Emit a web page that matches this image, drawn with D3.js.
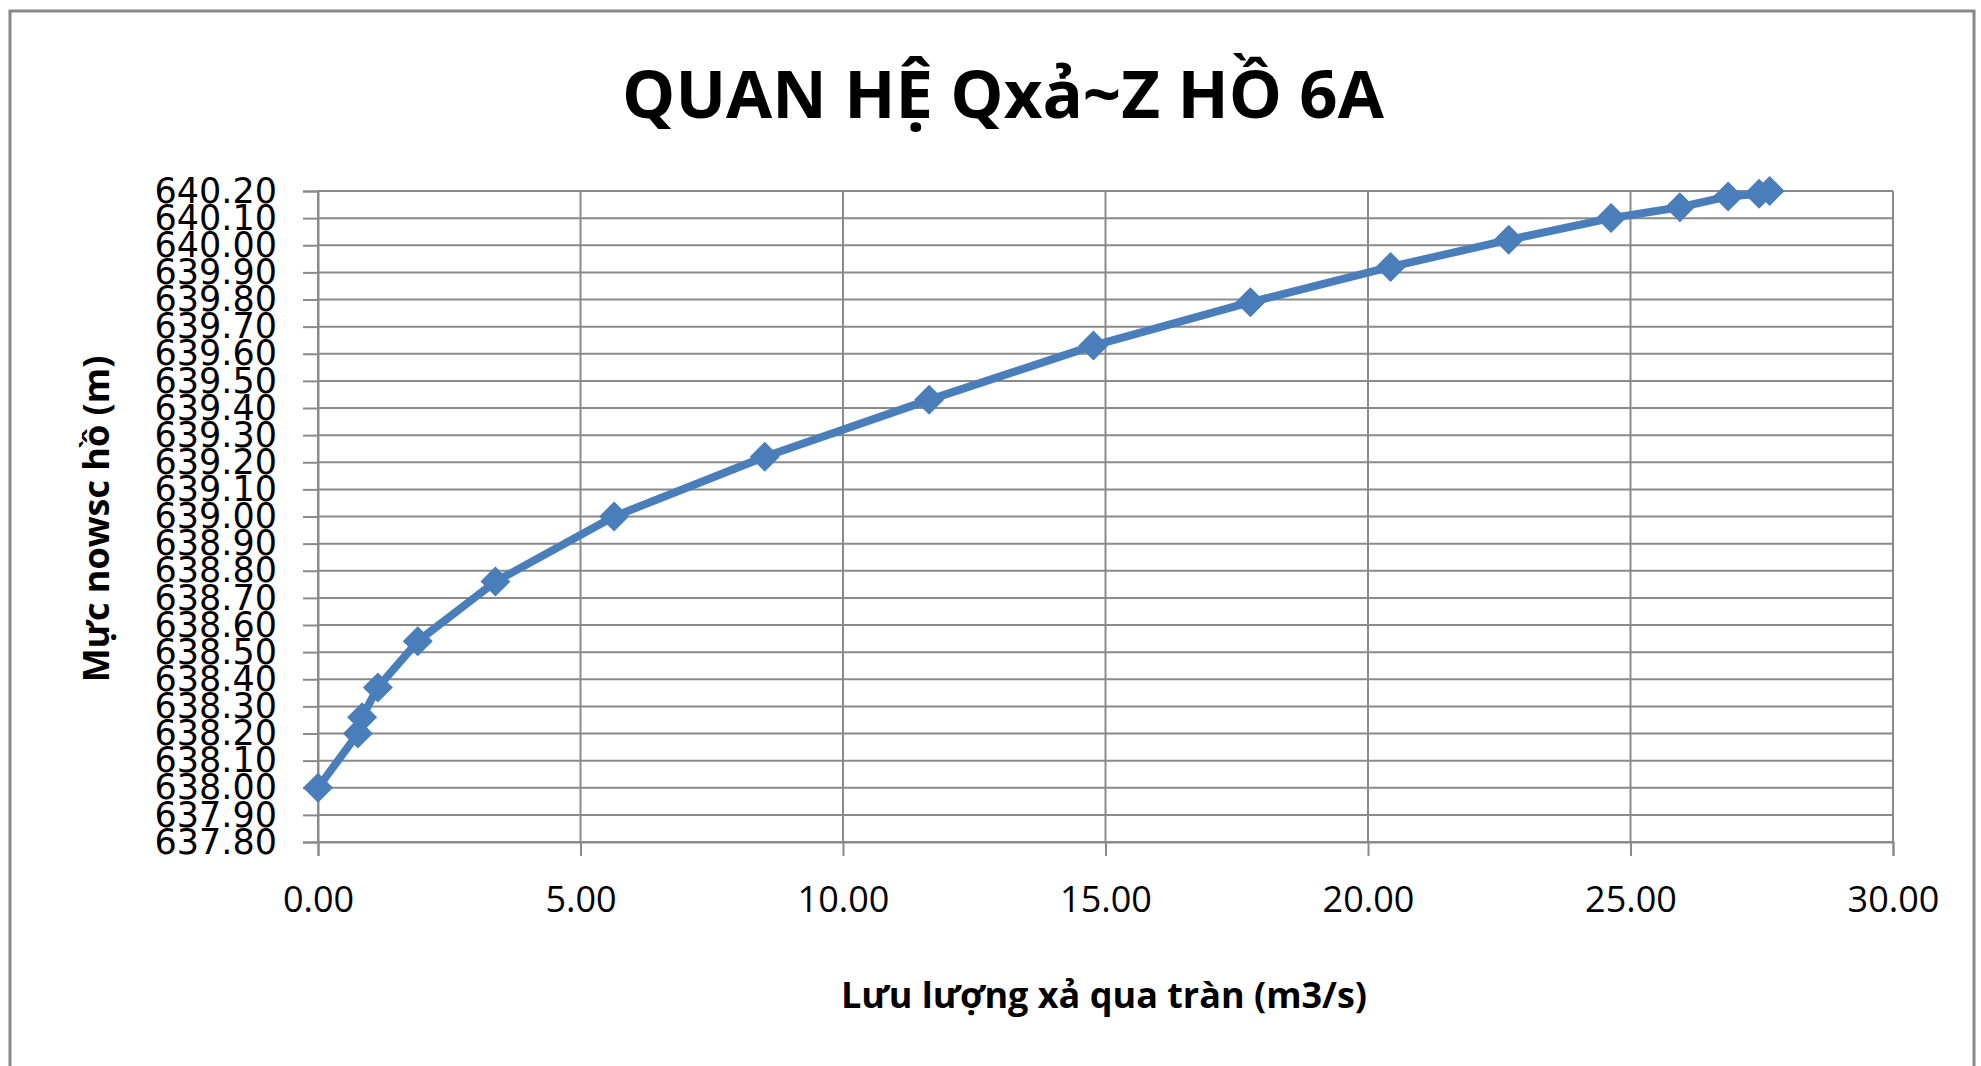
<!DOCTYPE html>
<html>
<head>
<meta charset="utf-8">
<script src="https://cdn.jsdelivr.net/npm/d3@7"></script>
<style>
  body { margin: 0; background: #fff; }
  svg { display: block; }
</style>
</head>
<body>
<svg id="chart"></svg>
<script>
// discharge over the spillway (m3/s) and the matching lake level (m)
const discharge = [0.00, 0.76, 0.84, 1.14, 1.90, 3.38, 5.64, 8.51, 11.64, 14.77, 17.76, 20.43, 22.68, 24.63, 25.94, 26.86, 27.45, 27.65];
const level = [638.00, 638.20, 638.26, 638.37, 638.54, 638.76, 639.00, 639.22, 639.43, 639.63, 639.79, 639.92, 640.02, 640.10, 640.14, 640.18, 640.19, 640.20];

// axis ticks as printed on the chart
const xTicks = [0, 5, 10, 15, 20, 25, 30];
const yTicks = [637.8, 637.9, 638.0, 638.1, 638.2, 638.3, 638.4, 638.5, 638.6, 638.7, 638.8, 638.9,
                639.0, 639.1, 639.2, 639.3, 639.4, 639.5, 639.6, 639.7, 639.8, 639.9, 640.0, 640.1, 640.2];

const title = 'QUAN HỆ Qxả~Z HỒ 6A';
const xTitle = 'Lưu lượng xả qua tràn (m3/s)';
const yTitle = 'Mực nowsc hồ (m)';

const width = 1981, height = 1066;
const margin = { top: 191, right: 88, bottom: 224, left: 318 };
const blue = '#4a7ebb';
const grid = '#8a8a8a';

const svg = d3.select('#chart')
    .attr('width', width)
    .attr('height', height);

// chart area frame
svg.append('rect')
    .attr('x', 10).attr('y', 11)
    .attr('width', 1964).attr('height', 1100)
    .attr('fill', '#fff')
    .attr('stroke', '#888')
    .attr('stroke-width', 3);

const x = d3.scaleLinear().domain([0, 30]).range([margin.left, width - margin.right]);
const y = d3.scaleLinear().domain([637.8, 640.2]).range([height - margin.bottom, margin.top]);

// gridlines
svg.append('g')
    .selectAll('line.h')
    .data(yTicks)
    .enter().append('line')
    .attr('x1', x(0)).attr('x2', x(30))
    .attr('y1', d => y(d)).attr('y2', d => y(d))
    .attr('stroke', grid).attr('stroke-width', 2);

svg.append('g')
    .selectAll('line.v')
    .data(xTicks)
    .enter().append('line')
    .attr('x1', d => x(d)).attr('x2', d => x(d))
    .attr('y1', y(640.2)).attr('y2', y(637.8))
    .attr('stroke', grid).attr('stroke-width', 2);

// axes
const yAxis = svg.append('g')
    .attr('transform', `translate(${x(0)},0)`)
    .call(d3.axisLeft(y).tickValues(yTicks).tickFormat(d3.format('.2f')).tickSize(15).tickPadding(26));

const xAxis = svg.append('g')
    .attr('transform', `translate(0,${y(637.8)})`)
    .call(d3.axisBottom(x).tickValues(xTicks).tickFormat(d3.format('.2f')).tickSize(14).tickPadding(30));

[yAxis, xAxis].forEach(ax => {
    ax.select('.domain').attr('stroke', grid).attr('stroke-width', 2);
    ax.selectAll('.tick line').attr('stroke', grid).attr('stroke-width', 2);
});

yAxis.selectAll('.tick text')
    .attr('fill', '#000')
    .style('font-family', '"DejaVu Sans", sans-serif')
    .style('font-size', '35px');

xAxis.selectAll('.tick text')
    .attr('fill', '#000')
    .attr('dy', '0.71em')
    .style('font-family', '"Open Sans", sans-serif')
    .style('font-size', '36px');

// series
const line = d3.line()
    .x((d, i) => x(discharge[i]))
    .y(d => y(d));

svg.append('path')
    .datum(level)
    .attr('fill', 'none')
    .attr('stroke', blue)
    .attr('stroke-width', 8)
    .attr('stroke-linejoin', 'round')
    .attr('d', line);

const diamond = d3.symbol().type(d3.symbolSquare).size(450);

svg.append('g')
    .selectAll('path')
    .data(level)
    .enter().append('path')
    .attr('d', diamond)
    .attr('transform', (d, i) => `translate(${x(discharge[i])},${y(d)}) rotate(45)`)
    .attr('fill', blue);

// titles
svg.append('text')
    .attr('x', 1003).attr('y', 118)
    .attr('text-anchor', 'middle')
    .style('font-family', '"Open Sans", sans-serif')
    .style('font-weight', 'bold')
    .style('font-size', '67px')
    .text(title);

svg.append('text')
    .attr('x', 1104).attr('y', 1008)
    .attr('text-anchor', 'middle')
    .style('font-family', '"Open Sans", sans-serif')
    .style('font-weight', 'bold')
    .style('font-size', '36px')
    .text(xTitle);

svg.append('text')
    .attr('transform', 'translate(109,519) rotate(-90)')
    .attr('text-anchor', 'middle')
    .style('font-family', '"Open Sans", sans-serif')
    .style('font-weight', 'bold')
    .style('font-size', '36px')
    .text(yTitle);
</script>
</body>
</html>
